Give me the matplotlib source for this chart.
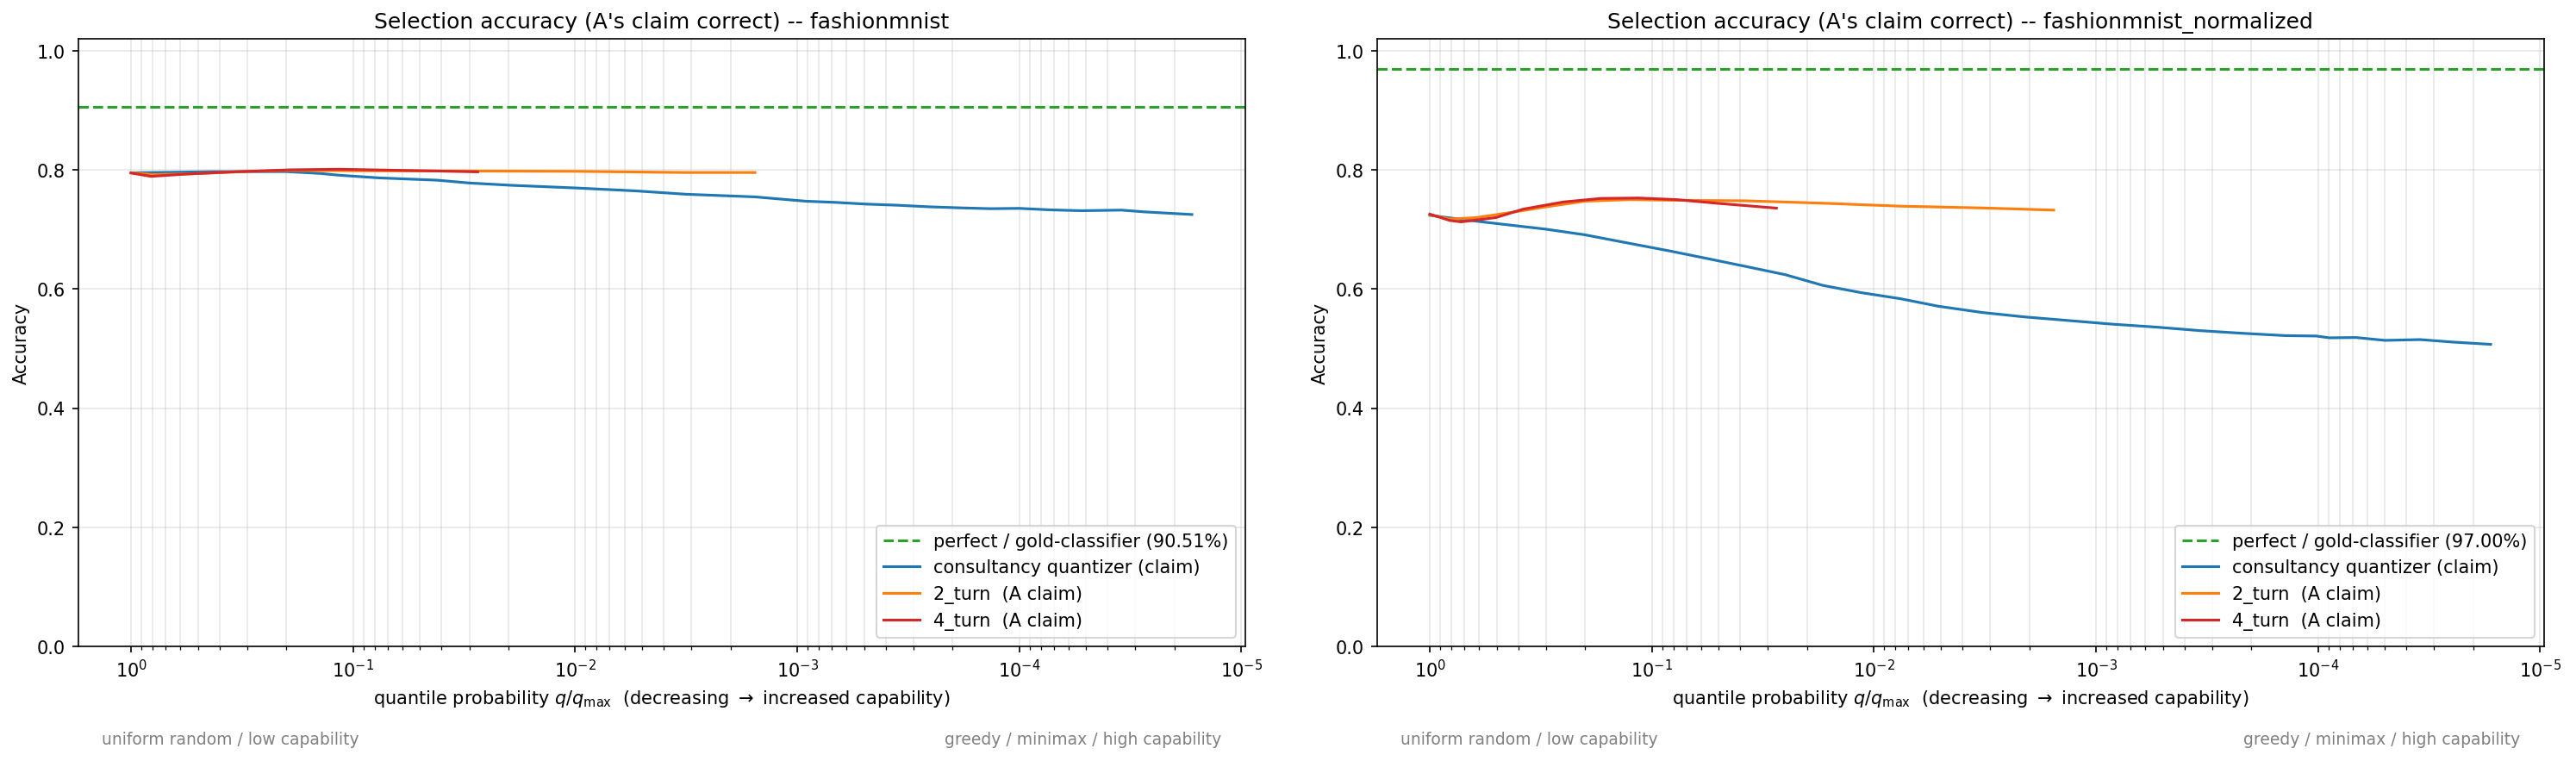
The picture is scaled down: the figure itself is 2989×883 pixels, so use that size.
import numpy as np
import matplotlib
matplotlib.use("Agg")
import matplotlib.pyplot as plt

# ---- data (q = quantile probability q/q_max) ----
datasets = ["fashionmnist", "fashionmnist_normalized"]
gold_acc = [0.9051, 0.9700]

# fashionmnist
q_cons_a = [1.0, 0.631, 0.417, 0.2, 0.141, 0.116, 0.0767, 0.0417, 0.0302, 0.0193,
            0.01, 0.00537, 0.00316, 0.00155, 0.00126, 0.000912, 0.000676, 0.00049,
            0.000355, 0.000257, 0.000186, 0.000135, 0.0001, 7.24e-5, 5.25e-5,
            3.47e-5, 2.75e-5, 1.67e-5]
acc_cons_a = [0.795, 0.796, 0.797, 0.797, 0.794, 0.791, 0.7865, 0.7826, 0.778, 0.774,
              0.7696, 0.7647, 0.759, 0.7546, 0.7517, 0.7473, 0.7454, 0.7425,
              0.7406, 0.738, 0.7362, 0.7348, 0.7353, 0.7328, 0.7314,
              0.7324, 0.7295, 0.725]
q_2t_a = [1.0, 0.794, 0.562, 0.316, 0.2, 0.1, 0.0316, 0.01, 0.00316, 0.00155]
acc_2t_a = [0.795, 0.792, 0.793, 0.797, 0.799, 0.7985, 0.798, 0.7975, 0.7955, 0.7955]
q_4t_a = [1.0, 0.813, 0.550, 0.324, 0.193, 0.116, 0.0692, 0.0417, 0.0275]
acc_4t_a = [0.7947, 0.789, 0.7932, 0.797, 0.800, 0.801, 0.7995, 0.798, 0.7966]

# fashionmnist_normalized
q_cons_b = [1.0, 0.693, 0.505, 0.302, 0.201, 0.125, 0.0837, 0.0562, 0.038, 0.0251,
            0.017, 0.0115, 0.00759, 0.00513, 0.00324, 0.00209, 0.00132, 0.000851,
            0.000537, 0.000339, 0.000219, 0.000141, 0.000102, 8.9e-5, 6.76e-5,
            5.0e-5, 3.47e-5, 2.51e-5, 1.67e-5]
acc_cons_b = [0.7237, 0.716, 0.710, 0.7005, 0.691, 0.6763, 0.664, 0.651, 0.638, 0.624,
              0.606, 0.594, 0.5836, 0.571, 0.5604, 0.553, 0.5469, 0.541,
              0.536, 0.530, 0.5256, 0.5217, 0.521, 0.518, 0.5185,
              0.5137, 0.515, 0.511, 0.507]
q_2t_b = [1.0, 0.813, 0.617, 0.413, 0.302, 0.201, 0.125, 0.0837, 0.038, 0.017,
          0.00759, 0.00324, 0.00155]
acc_2t_b = [0.7246, 0.7174, 0.7198, 0.7295, 0.7377, 0.7473, 0.750, 0.749, 0.748, 0.744,
            0.739, 0.736, 0.7324]
q_4t_b = [1.0, 0.813, 0.724, 0.505, 0.380, 0.251, 0.170, 0.115, 0.0776, 0.0513,
          0.038, 0.0275]
acc_4t_b = [0.7256, 0.715, 0.7126, 0.7198, 0.734, 0.746, 0.752, 0.7527, 0.750, 0.744,
            0.740, 0.7357]

panels = [
    (q_cons_a, acc_cons_a, q_2t_a, acc_2t_a, q_4t_a, acc_4t_a),
    (q_cons_b, acc_cons_b, q_2t_b, acc_2t_b, q_4t_b, acc_4t_b),
]

fig, axes = plt.subplots(1, 2, figsize=(19.93, 5.893), dpi=150)
fig.subplots_adjust(left=0.0303, right=0.9873, bottom=0.1505, top=0.948, wspace=0.113)

for ax, name, gold, (qc, ac, q2, a2, q4, a4) in zip(axes, datasets, gold_acc, panels):
    ax.axhline(gold, color="tab:green", ls="--", lw=1.5,
               label=f"perfect / gold-classifier ({gold * 100:.2f}%)")
    ax.plot(qc, ac, color="tab:blue", lw=1.5, label="consultancy quantizer (claim)")
    ax.plot(q2, a2, color="tab:orange", lw=1.5, label="2_turn  (A claim)")
    ax.plot(q4, a4, color="tab:red", lw=1.5, label="4_turn  (A claim)")
    ax.set_xscale("log")
    ax.invert_xaxis()
    ax.set_ylim(0, 1.02)
    ax.grid(True, which="both", alpha=0.3)
    ax.set_title(f"Selection accuracy (A's claim correct) -- {name}")
    ax.set_ylabel("Accuracy")
    ax.set_xlabel(r"quantile probability $q/q_{\max}$  (decreasing $\rightarrow$ increased capability)")
    ax.legend(loc="lower right")
    ax.text(0.02, -0.152, "uniform random / low capability", transform=ax.transAxes,
            ha="left", va="center", fontsize=9, color="gray")
    ax.text(0.98, -0.152, "greedy / minimax / high capability", transform=ax.transAxes,
            ha="right", va="center", fontsize=9, color="gray")

fig.savefig("out.png", dpi=150)
